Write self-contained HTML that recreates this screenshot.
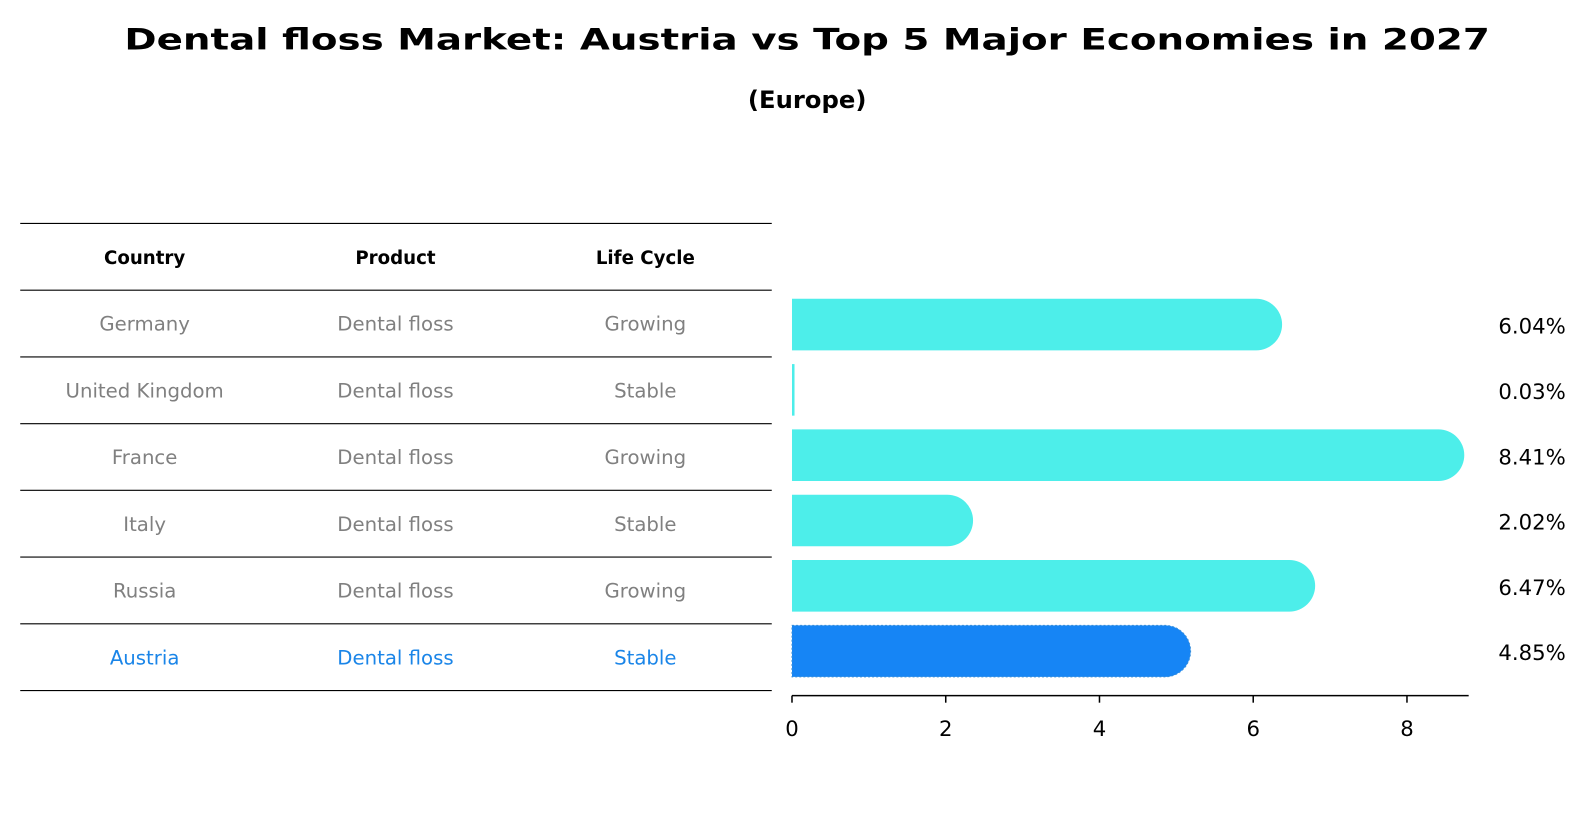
<!DOCTYPE html>
<html><head><meta charset="utf-8">
<style>
body{margin:0;background:#fff;overflow:hidden;}
svg text{font-family:"DejaVu Sans","Liberation Sans",sans-serif;}
</style></head>
<body>
<svg id="chart" width="1586" height="823" viewBox="0 0 1568 814" preserveAspectRatio="none" xmlns="http://www.w3.org/2000/svg">
<text x="798" y="49" text-anchor="middle" font-size="29" font-weight="bold" textLength="1350" lengthAdjust="spacingAndGlyphs">Dental floss Market: Austria vs Top 5 Major Economies in 2027</text>
<text x="798" y="107" text-anchor="middle" font-size="24" font-weight="bold">(Europe)</text>
<g id="table"></g>
<g id="bars"></g>
</svg>
<script>
const countries=["Germany","United Kingdom","France","Italy","Russia","Austria"];
const products=["Dental floss","Dental floss","Dental floss","Dental floss","Dental floss","Dental floss"];
const lifeCycles=["Growing","Stable","Growing","Stable","Growing","Stable"];
const values=[6.04,0.03,8.41,2.02,6.47,4.85];
const valueLabels=["6.04%","0.03%","8.41%","2.02%","6.47%","4.85%"];
const xTicks=[0,2,4,6,8];

const NS="http://www.w3.org/2000/svg";
function mk(tag,attrs,parent){const e=document.createElementNS(NS,tag);for(const k in attrs)e.setAttribute(k,attrs[k]);parent.appendChild(e);return e;}
const table=document.getElementById('table');
const bars=document.getElementById('bars');
const rowH=66, tableTop=221, colX=[143,391,638];
function rowY(i){return tableTop+rowH*(i+1);}
for(let i=0;i<=countries.length+1;i++){
  const y=tableTop+rowH*i;
  const l=mk('line',{x1:20,x2:763,y1:y,y2:y,stroke:'#000','stroke-width':1.1},table);
  
  
}
const headers=["Country","Product","Life Cycle"];
headers.forEach((h,j)=>{
  const t=mk('text',{x:colX[j],y:tableTop+rowH/2+7,'text-anchor':'middle','font-size':18,'font-weight':'bold'},table);
  t.textContent=h;
  
  
});
countries.forEach((c,i)=>{
  const col=c==="Austria"?"#1a85e8":"#808080";
  [c,products[i],lifeCycles[i]].forEach((v,j)=>{
    const t=mk('text',{x:colX[j],y:rowY(i)+rowH/2+7,'text-anchor':'middle','font-size':19.5,fill:col},table);
    t.textContent=v;
    
    
  });
});
const x0=783, pxPer=76;
function xs(v){return x0+v*pxPer;}
const barH=51;
countries.forEach((c,i)=>{
  const cy=321+i*64.6;
  const isA=c==="Austria";
  const col=isA?"#1685f5":"#4deeea";
  const w=xs(values[i])-x0;
  const r=barH/2;
  let d;
  if(w>r){ d=`M${x0},${cy-r} H${x0+w} A${r},${r} 0 0 1 ${x0+w},${cy+r} H${x0} Z`; }
  else { d=`M${x0},${cy-r} H${x0+Math.max(w,2.5)} V${cy+r} H${x0} Z`; }
  const attrs={d:d,fill:col};
  if(isA){attrs.stroke='#3a8fd8';attrs['stroke-width']=1;attrs['stroke-dasharray']='2,2';}
  const p=mk('path',attrs,bars);
  
  
  const t=mk('text',{x:1548,y:cy+9,'text-anchor':'end','font-size':21},bars);
  t.textContent=valueLabels[i];
  
  
});
const ax=mk('line',{x1:x0,x2:1452,y1:688,y2:688,stroke:'#000','stroke-width':1.5},bars);


xTicks.forEach(v=>{
  const tk=mk('line',{x1:xs(v),x2:xs(v),y1:688,y2:695,stroke:'#000','stroke-width':1.5},bars);
  
  
  const t=mk('text',{x:xs(v),y:728,'text-anchor':'middle','font-size':21},bars);
  t.textContent=v;
  
  
});
</script>
</body></html>
